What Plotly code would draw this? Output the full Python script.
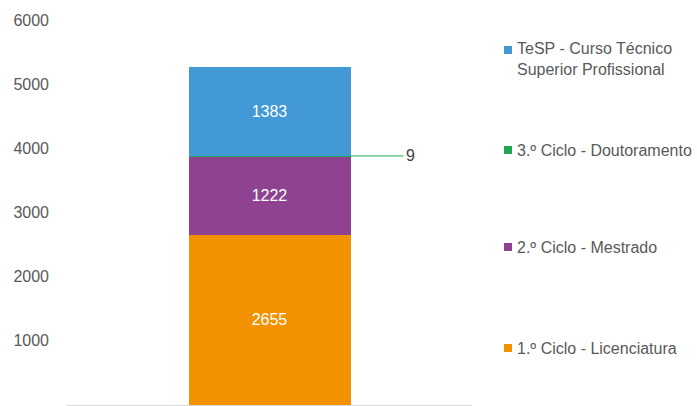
import plotly.graph_objects as go

category = ["Total"]
series_names = [
    "1.º Ciclo - Licenciatura",
    "2.º Ciclo - Mestrado",
    "3.º Ciclo - Doutoramento",
    "TeSP - Curso Técnico<br>Superior Profissional",
]
licenciatura = [2655]
mestrado = [1222]
doutoramento = [9]
tesp = [1383]
y_ticks = [0, 1000, 2000, 3000, 4000, 5000, 6000]

colors = ["#F39200", "#8E4290", "#23A450", "#4299D6"]
values = [licenciatura, mestrado, doutoramento, tesp]
legend_square_px = [348, 247, 150, 50]  # pixel centre of each legend square
legend_text_px = [348, 247, 150, 59]

FONT = "Liberation Sans, Arial, Helvetica"
W, H = 697, 406
L, R, T, B = 67, 225, 20, 1
ph = H - T - B
pw = W - L - R

fig = go.Figure()
for name, vals, col in zip(series_names, values, colors):
    show_text = vals is not doutoramento
    fig.add_trace(go.Bar(
        x=[0], y=vals, name=name.replace("<br>", " "),
        marker=dict(color=col, line=dict(width=0)),
        width=0.4,
        text=[str(v) for v in vals] if show_text else None,
        textposition="inside" if show_text else "none",
        insidetextanchor="middle",
        textfont=dict(color="white", size=16, family=FONT),
        showlegend=False, hoverinfo="name+y",
    ))

# leader label for the small series
base = licenciatura[0] + mestrado[0]
fig.add_annotation(
    x=0.2, y=base + doutoramento[0] / 2, xref="x", yref="y",
    text=str(doutoramento[0]), showarrow=True, arrowhead=0, arrowwidth=1,
    arrowcolor="#23A450", ax=53, ay=0, xanchor="left",
    font=dict(size=16, color="#404040", family=FONT),
)

# legend (squares + labels)
def py2paper(py):
    return (H - B - py) / ph

sq_x = (508 - L) / pw
for name, col, sp, tp in zip(series_names, colors, legend_square_px, legend_text_px):
    fig.add_shape(
        type="rect", xref="paper", yref="paper", xsizemode="pixel", ysizemode="pixel",
        xanchor=sq_x, yanchor=py2paper(sp), x0=-4, x1=4, y0=-4, y1=4,
        fillcolor=col, line=dict(width=0),
    )
    fig.add_annotation(
        x=(515 - L) / pw, y=py2paper(tp), xref="paper", yref="paper",
        text=name, showarrow=False, xanchor="left", yanchor="middle", align="left",
        font=dict(size=16, color="#595959", family=FONT),
    )

fig.update_layout(
    width=W, height=H, margin=dict(l=L, r=R, t=T, b=B, autoexpand=False),
    barmode="stack", plot_bgcolor="white", paper_bgcolor="white",
    showlegend=False,
    font=dict(family=FONT, color="#595959", size=16),
    xaxis=dict(range=[-0.5, 0.5], showticklabels=False, showgrid=False,
               zeroline=False, showline=True, linecolor="#D9D9D9", linewidth=1,
               fixedrange=True),
    yaxis=dict(range=[0, 6000], tickvals=y_ticks, showgrid=False, zeroline=False,
               showline=False, ticks="", ticklabelstandoff=17,
               tickfont=dict(size=16, color="#595959", family=FONT)),
)

fig.write_html("out.html", config={"displayModeBar": False},
               post_script="document.body.style.margin='0';")
